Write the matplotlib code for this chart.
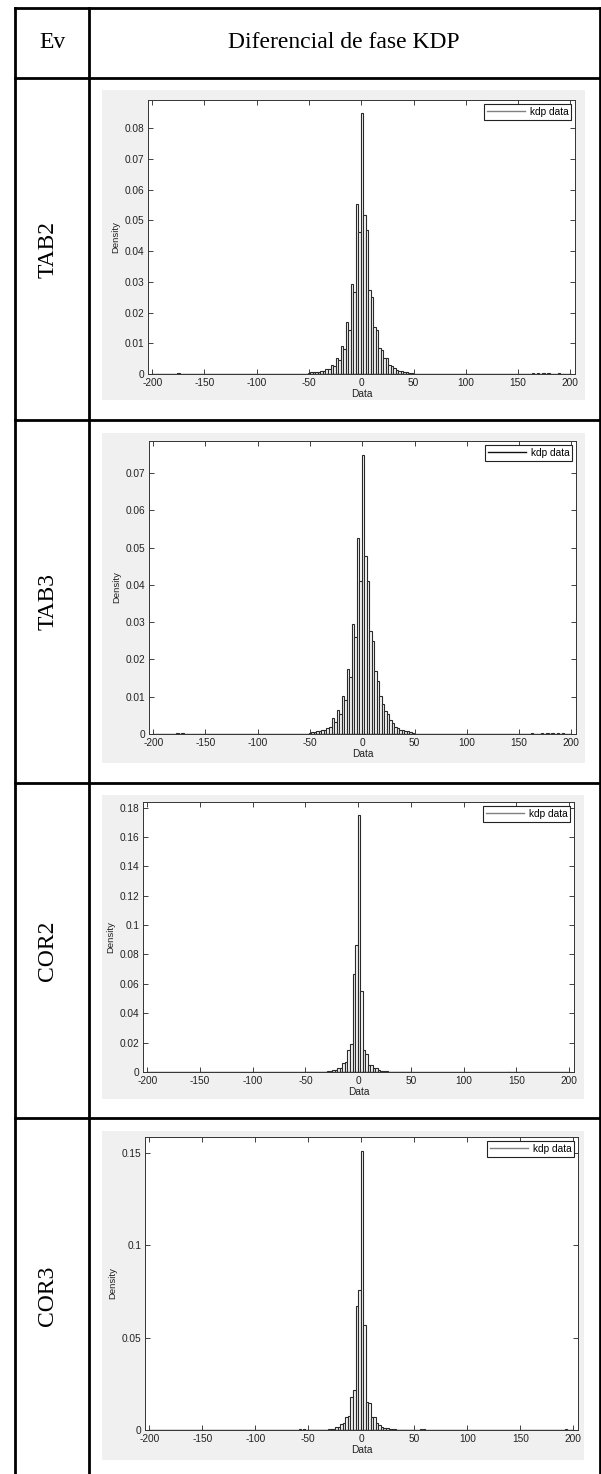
import matplotlib
matplotlib.use('Agg')
import matplotlib.pyplot as plt
from matplotlib.lines import Line2D
from matplotlib.patches import Rectangle
from matplotlib.ticker import FuncFormatter
import numpy as np

# row labels of the table
eventos = ['TAB2', 'TAB3', 'COR2', 'COR3']

# histogram: bins of width 2.4, first edge at -51 (central part, 42 bins)
bin_ancho = 2.4
bin_inicio = -51.0

tab2 = [0.0003, 0.0005, 0.0005, 0.0008, 0.0007, 0.0011, 0.0010, 0.0016, 0.0015, 0.0028, 0.0026,
        0.0053, 0.0046, 0.0090, 0.0083, 0.0168, 0.0143, 0.0293, 0.0268, 0.0554, 0.0463,
        0.0850,
        0.0517, 0.0470, 0.0273, 0.0250, 0.0152, 0.0143, 0.0085, 0.0078, 0.0052, 0.0051,
        0.0030, 0.0026, 0.0018, 0.0013, 0.0011, 0.0009, 0.0007, 0.0005, 0.0004, 0.0003]
tab3 = [0.0003, 0.0005, 0.0006, 0.0009, 0.0009, 0.0012, 0.0012, 0.0015, 0.0020, 0.0042, 0.0033,
        0.0064, 0.0055, 0.0103, 0.0090, 0.0175, 0.0152, 0.0296, 0.0260, 0.0525, 0.0412,
        0.0749,
        0.0479, 0.0410, 0.0277, 0.0250, 0.0170, 0.0142, 0.0103, 0.0080, 0.0062, 0.0055,
        0.0037, 0.0030, 0.0020, 0.0017, 0.0012, 0.0010, 0.0008, 0.0007, 0.0005, 0.0004]
cor2 = [0.0001, 0.0001, 0.0001, 0.0001, 0.0001, 0.0001, 0.0002, 0.0002, 0.0003, 0.0008, 0.0008,
        0.0012, 0.0013, 0.0027, 0.0030, 0.0060, 0.0065, 0.0150, 0.0190, 0.0669, 0.0867,
        0.1750,
        0.0550, 0.0150, 0.0124, 0.0050, 0.0045, 0.0030, 0.0025, 0.0012, 0.0010, 0.0005,
        0.0004, 0.0003, 0.0002, 0.0002, 0.0001, 0.0001, 0.0001, 0.0001, 0.0001, 0.0001]
cor3 = [0.0001, 0.0001, 0.0001, 0.0001, 0.0001, 0.0001, 0.0001, 0.0001, 0.0004, 0.0007, 0.0008,
        0.0014, 0.0015, 0.0034, 0.0036, 0.0072, 0.0075, 0.0177, 0.0216, 0.0670, 0.0760,
        0.1510,
        0.0570, 0.0153, 0.0145, 0.0068, 0.0070, 0.0040, 0.0025, 0.0015, 0.0012, 0.0010,
        0.0007, 0.0005, 0.0003, 0.0002, 0.0001, 0.0001, 0.0001, 0.0001, 0.0001, 0.0001]

# small isolated bars far in the tails (bin left edge, density)
tab2_cola_x = [-176.0, 163.0, 168.0, 173.0, 178.0, 188.0]
tab2_cola_y = [0.0004, 0.0003, 0.0003, 0.0004, 0.0003, 0.0003]
tab3_cola_x = [-178.0, -173.0, 161.0, 171.0, 176.0, 181.0, 186.0, 191.0]
tab3_cola_y = [0.0003, 0.0003, 0.0003, 0.0003, 0.0003, 0.0004, 0.0003, 0.0003]
cor2_cola_x = [141.0, 151.0]
cor2_cola_y = [0.0002, 0.0002]
cor3_cola_x = [-59.0, -55.0, 55.0, 58.0, 192.0]
cor3_cola_y = [0.0004, 0.0004, 0.0004, 0.0004, 0.0004]

xticks = [-200, -150, -100, -50, 0, 50, 100, 150, 200]
yticks_tab2 = [0, 0.01, 0.02, 0.03, 0.04, 0.05, 0.06, 0.07, 0.08]
yticks_tab3 = [0, 0.01, 0.02, 0.03, 0.04, 0.05, 0.06, 0.07]
yticks_cor2 = [0, 0.02, 0.04, 0.06, 0.08, 0.1, 0.12, 0.14, 0.16, 0.18]
yticks_cor3 = [0, 0.05, 0.1, 0.15]

series = [tab2, tab3, cor2, cor3]
colas_x = [tab2_cola_x, tab3_cola_x, cor2_cola_x, cor3_cola_x]
colas_y = [tab2_cola_y, tab3_cola_y, cor2_cola_y, cor3_cola_y]
yticks_all = [yticks_tab2, yticks_tab3, yticks_cor2, yticks_cor3]
leyenda_color = ['#808080', '#111111', '#808080', '#808080']

W, H = 601, 1474
fig = plt.figure(figsize=(W / 100, H / 100), dpi=100)
fig.patch.set_facecolor('white')


def rect(x0, y0, x1, y1):
    return [x0 / W, 1 - y1 / H, (x1 - x0) / W, (y1 - y0) / H]


def linea(x0, y0, x1, y1):
    fig.add_artist(Line2D([x0 / W, x1 / W], [1 - y0 / H, 1 - y1 / H], color='black',
                          lw=2.0, solid_capstyle='projecting'))


# table grid
for yy in [8, 78, 420, 783, 1118]:
    linea(15, yy, 599.5, yy)
for xx in [15, 89, 599.5]:
    linea(xx, 8, xx, H)

serif = 'Liberation Serif'
fig.text(52 / W, 1 - 43 / H, 'Ev', ha='center', va='center', fontsize=17, family=serif)
fig.text(344 / W, 1 - 43 / H, 'Diferencial de fase KDP', ha='center', va='center',
         fontsize=17, family=serif)

filas = [(78, 420), (420, 783), (783, 1118), (1118, 1474)]
for ev, (ya, yb) in zip(eventos, filas):
    fig.text(48 / W, 1 - (ya + yb) / 2 / H, ev, ha='center', va='center', rotation=90,
             fontsize=17, family=serif)

grises = [(102, 90, 585, 400), (102, 433, 585, 763), (102, 795, 584, 1099), (102, 1131, 584, 1460)]
ejes = [(148, 100, 575, 374), (149, 441, 576, 734), (143, 802, 574, 1072), (145, 1137, 578, 1430)]

sans = 'Liberation Sans'
txt = '#222222'
barra = dict(align='edge', facecolor='#f7f7f7', edgecolor='#2a2a2a', linewidth=0.8)
for i in range(4):
    g = grises[i]
    fig.add_artist(Rectangle((g[0] / W, 1 - g[3] / H), (g[2] - g[0]) / W, (g[3] - g[1]) / H,
                             transform=fig.transFigure, facecolor='#f0f0f0', edgecolor='none',
                             zorder=0))
    ax = fig.add_axes(rect(*ejes[i]))
    ax.set_facecolor('white')

    h = np.array(series[i])
    bordes = bin_inicio + bin_ancho * np.arange(len(h))
    ax.bar(bordes, h, width=bin_ancho, **barra)
    ax.bar(colas_x[i], colas_y[i], width=bin_ancho, **barra)
    ax.plot([-200, 200], [0, 0], color='#333333', lw=1.0)

    ax.set_xlim(-204, 204.5)
    ax.set_ylim(0, h.max() * 1.05)
    ax.set_xticks(xticks)
    ax.set_xticklabels([str(v) for v in xticks])
    ax.set_yticks(yticks_all[i])
    ax.yaxis.set_major_formatter(FuncFormatter(lambda v, p: '%g' % v))
    ax.tick_params(direction='in', top=True, right=True, length=3.5, width=0.6,
                   labelsize=7.3, colors=txt)
    ax.tick_params(axis='x', pad=3.2)
    ax.tick_params(axis='y', pad=2.5)
    for lab in ax.get_xticklabels() + ax.get_yticklabels():
        lab.set_family(sans)
    for s in ax.spines.values():
        s.set_color('#333333')
        s.set_linewidth(0.7)

    ax.set_xlabel('Data', fontsize=7.3, family=sans, color=txt, labelpad=0.5)
    ax.set_ylabel('Density', fontsize=6.8, family=sans, color=txt, labelpad=3.5)

    ax.plot([], [], color=leyenda_color[i], lw=1.0, label='kdp data')
    leg = ax.legend(loc='upper right', fancybox=False, framealpha=1, edgecolor='#222222',
                    prop={'family': sans, 'size': 7.3}, handlelength=3.7, handletextpad=0.5,
                    borderpad=0.3, borderaxespad=0.35)
    leg.get_frame().set_linewidth(0.8)

fig.savefig('out.png', dpi=100, facecolor='white')
